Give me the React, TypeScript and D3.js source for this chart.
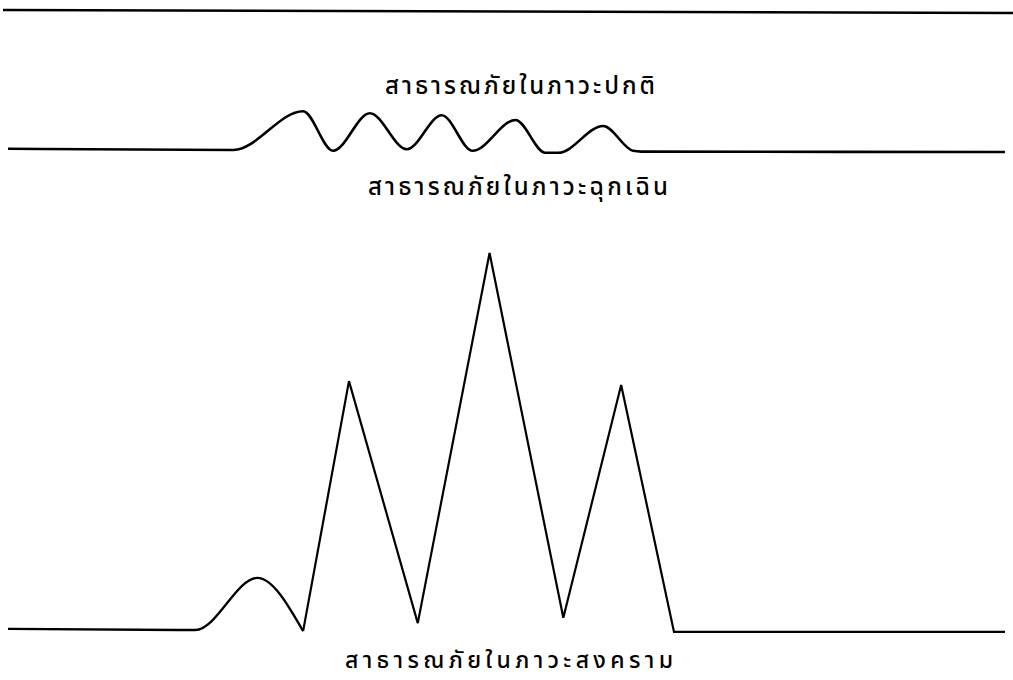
import React from 'react';
import * as d3 from 'd3';

const W = 1013;
const H = 680;

// Relative time units (0–100) and relative intensity (0–100) for each phase
const normalX = [-0.5, 100.8];
const normalY = [7.5, 0];

const emergencyX = [0, 22.6, 29.6, 32.6, 36.3, 40.0, 43.5, 46.6, 50.9, 53.9, 55.2, 59.7, 62.7, 63.5, 100];
const emergencyY = [3, 0, 97, -2, 92, 2, 87, -2, 75, -7, -7, 60, -2, -4, -5];

const warHumpX = [0, 18.8, 25.0, 29.6];
const warHumpY = [0.3, 0, 13.7, -0.3];
const warSpikeX = [29.6, 34.2, 41.1, 48.3, 55.7, 61.5, 66.8, 100];
const warSpikeY = [-0.3, 65.5, 1.8, 99.2, 3.2, 64.5, -0.5, -0.5];

const labels = ['สาธารณภัยในภาวะปกติ', 'สาธารณภัยในภาวะฉุกเฉิน', 'สาธารณภัยในภาวะสงคราม'];

const zip = (xs: number[], ys: number[]) => xs.map((x, i) => [x, ys[i]] as [number, number]);

export default function App() {
  const x = d3.scaleLinear().domain([0, 100]).range([8, 1005]);
  const yNormal = d3.scaleLinear().domain([0, 100]).range([13, -27]);
  const yEmerg = d3.scaleLinear().domain([0, 100]).range([150, 110]);
  const yWar = d3.scaleLinear().domain([0, 100]).range([630, 250]);

  const lineFor = (ys: d3.ScaleLinear<number, number>, curve: d3.CurveFactory) =>
    d3.line<[number, number]>().x((d) => x(d[0])).y((d) => ys(d[1])).curve(curve);

  const normalPath = lineFor(yNormal, d3.curveLinear)(zip(normalX, normalY)) || '';
  const emergPath = lineFor(yEmerg, d3.curveMonotoneX)(zip(emergencyX, emergencyY)) || '';
  const humpPath = lineFor(yWar, d3.curveMonotoneX)(zip(warHumpX, warHumpY)) || '';
  const spikePath = lineFor(yWar, d3.curveLinear)(zip(warSpikeX, warSpikeY)) || '';

  const font = "'Noto Sans Thai', 'Noto Sans', 'DejaVu Sans', sans-serif";
  const labelPos = [
    { x0: 385, w: 270, y: 94, fs: 24 },
    { x0: 368, w: 300, y: 195, fs: 24 },
    { x0: 345, w: 328, y: 668, fs: 23 },
  ];

  return (
    <svg width={W} height={H} style={{ position: 'absolute', left: 0, top: 0, background: '#fff' }}>
      <path d={normalPath} fill="none" stroke="#000" strokeWidth={2.5} />
      <path d={emergPath} fill="none" stroke="#000" strokeWidth={2.6} strokeLinejoin="round" />
      <path d={humpPath} fill="none" stroke="#000" strokeWidth={2.3} strokeLinejoin="round" />
      <path d={spikePath} fill="none" stroke="#000" strokeWidth={2.2} strokeLinejoin="miter" />
      {labels.map((t, i) => (
        <text
          key={i}
          x={labelPos[i].x0}
          y={labelPos[i].y}
          textLength={labelPos[i].w}
          lengthAdjust="spacing"
          fontFamily={font}
          fontSize={labelPos[i].fs}
          fontWeight={500}
          fill="#000"
        >
          {t}
        </text>
      ))}
    </svg>
  );
}
